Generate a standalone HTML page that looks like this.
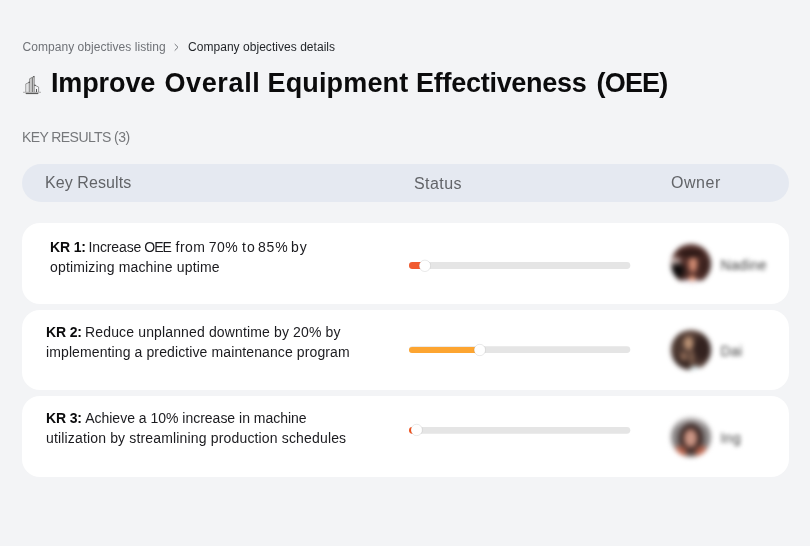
<!DOCTYPE html>
<html lang="en">
<head>
<meta charset="utf-8">
<title>Company objectives details</title>
<style>
*{box-sizing:border-box;margin:0;padding:0}
html,body{width:810px;height:546px;overflow:hidden;background:#f3f4f6}
body{font-family:"Liberation Sans",sans-serif;color:#111;position:relative}
.abs{position:absolute;white-space:nowrap}
.crumb{top:40px;font-size:12px;line-height:14px;color:#6f7277}
.title{left:51.5px;top:66px;font-size:27px;line-height:34px;font-weight:700;color:#0b0b0c;letter-spacing:.05px}
.icon{left:22px;top:74px;width:20px;height:22px}
.sub{left:22px;top:129px;font-size:14px;line-height:16px;color:#76787b;letter-spacing:-.58px}
.head{left:22px;top:164px;width:767px;height:38px;border-radius:19px;background:#e5e9f1}
.hd{font-size:16px;line-height:20px;color:#626468}
.card{left:22px;width:767px;border-radius:18px;background:#fff}
.ln{font-size:14px;line-height:20px;color:#1b1b1f}
.ln b{font-weight:700;color:#0b0b0c;letter-spacing:-.15px}
.track{height:7px;border-radius:3.5px;background:#e5e5e5;left:409px;width:221px}
.fill{height:7px;border-radius:3.5px;left:409px}
.knob{width:11px;height:11px;border-radius:50%;background:#fff;box-shadow:0 0 1px rgba(0,0,0,.35)}
.av{width:40px;height:40px;border-radius:50%;filter:blur(2.5px);overflow:hidden}
.nm{left:720.5px;font-size:14px;line-height:18px;color:#3c3c3c;filter:blur(2.2px);letter-spacing:.35px;transform:translateY(.6px)}
</style>
</head>
<body>
<div class="abs crumb" style="left:22.5px;letter-spacing:.045px" id="c1">Company objectives listing</div>
<svg class="abs" style="left:173px;top:43px" width="7" height="9" viewBox="0 0 7 9"><path d="M1.7 1 L5 4.3 L1.7 7.6" fill="none" stroke="#74777c" stroke-width="1"/></svg>
<div class="abs crumb" style="left:188px;color:#1f2226;letter-spacing:.04px" id="c2">Company objectives details</div>

<svg class="abs icon" viewBox="0 0 20 22" fill="none" stroke="#8c8c8c" stroke-width=".9">
<path d="M1 18.3h18" stroke="#9a9a9a" stroke-width=".8"/>
<path d="M3.7 19.5h12.6" stroke="#5c5c5c" stroke-width="1.2"/>
<path d="M7.6 18V4.7L12 2.5V18z" fill="#d9d9d9" stroke="none"/>
<path d="M3.8 18V9.9L7.6 8.3" />
<path d="M6.2 9.2V18" stroke="#aaa" stroke-width=".7"/>
<path d="M7.7 18V4.7L12.2 2.5V18" stroke="#7d7d7d"/>
<path d="M10.3 3.6V18" stroke="#666" stroke-width="1"/>
<path d="M12.3 11l4.3 2V18" />
<path d="M14.5 15V18" stroke="#555" stroke-width="1"/>
<path d="M6.6 8.5l1-.4M11.4 2.8l.9-.4M12.5 11l1 .5" stroke="#333" stroke-width="1.1"/>
</svg>
<h1 class="abs title" id="t" style="left:0;width:810px;height:34px"><span class="abs" style="left:50.9px;letter-spacing:-.1px">Improve</span> <span class="abs" style="left:164.4px;letter-spacing:.65px">Overall</span> <span class="abs" style="left:267.5px;letter-spacing:.15px">Equipment</span> <span class="abs" style="left:416.1px;letter-spacing:-.283px">Effectiveness</span> <span class="abs" style="left:596.5px;letter-spacing:-.8px">(OEE)</span></h1>

<div class="abs sub" id="s">KEY RESULTS (3)</div>

<div class="abs head"></div>
<div class="abs hd" style="left:45px;top:173px;letter-spacing:.08px" id="h1">Key Results</div>
<div class="abs hd" style="left:414px;top:174px;letter-spacing:.45px" id="h2">Status</div>
<div class="abs hd" style="left:671px;top:173px;letter-spacing:.55px" id="h3">Owner</div>

<div class="abs card" style="top:223px;height:81px"></div>
<div class="abs card" style="top:310px;height:80px"></div>
<div class="abs card" style="top:396px;height:81px"></div>

<div class="abs ln" style="left:0;top:237px;width:400px;height:20px" id="l1"><b class="abs" style="left:50px">KR 1:</b> <span class="abs" style="left:88.6px;letter-spacing:-.14px">Increase</span> <span class="abs" style="left:144.3px;letter-spacing:-1.03px">OEE</span> <span class="abs" style="left:175.5px;letter-spacing:.51px">from</span> <span class="abs" style="left:208.8px;letter-spacing:.5px">70%</span> <span class="abs" style="left:241.9px;letter-spacing:1.14px">to</span> <span class="abs" style="left:258px;letter-spacing:.83px">85%</span> <span class="abs" style="left:291px;letter-spacing:.97px">by</span></div>
<div class="abs ln" style="left:50px;top:257px;letter-spacing:.16px" id="l2">optimizing machine uptime</div>
<div class="abs ln" style="left:46px;top:322px" id="l3"><b>KR 2:</b><span id="r3" style="margin-left:-.75px;letter-spacing:.14px"> Reduce unplanned downtime by 20% by</span></div>
<div class="abs ln" style="left:46px;top:342px;letter-spacing:.11px" id="l4">implementing a predictive maintenance program</div>
<div class="abs ln" style="left:46px;top:408px" id="l5"><b>KR 3:</b><span id="r5" style="margin-left:.25px;letter-spacing:-.01px"> Achieve a 10% increase in machine</span></div>
<div class="abs ln" style="left:46px;top:428px;letter-spacing:.16px" id="l6">utilization by streamlining production schedules</div>

<svg class="abs" style="left:0;top:0" width="810" height="546" viewBox="0 0 810 546">
<rect x="409" y="262.1" width="221.3" height="6.8" rx="3.4" fill="#e5e5e5"/>
<rect x="409" y="262.1" width="17" height="6.8" rx="3.4" fill="#f15a2f"/>
<circle cx="424.9" cy="265.8" r="5.7" fill="#fff" stroke="#000" stroke-opacity=".13" stroke-width=".7"/>
<rect x="409" y="346.2" width="221.3" height="6.8" rx="3.4" fill="#e5e5e5"/>
<rect x="409" y="346.9" width="72" height="6.1" rx="3.05" fill="#fda531"/>
<circle cx="479.8" cy="350" r="5.7" fill="#fff" stroke="#000" stroke-opacity=".13" stroke-width=".7"/>
<rect x="409" y="426.9" width="221.3" height="6.9" rx="3.45" fill="#e5e5e5"/>
<rect x="409" y="426.9" width="9" height="6.9" rx="3.45" fill="#f3541f"/>
<circle cx="416.65" cy="429.95" r="5.7" fill="#fff" stroke="#000" stroke-opacity=".13" stroke-width=".7"/>
</svg>

<div class="abs av" style="left:670.5px;top:243.5px;background:
 radial-gradient(ellipse 9% 9% at 53% 86%,#f3a27e 0 55%,transparent 100%),
 radial-gradient(ellipse 46% 13% at 50% 100%,#eee9f0 0 70%,transparent 100%),
 radial-gradient(circle at 15% 67%,#0e0b0b 0 11%,transparent 24%),
 radial-gradient(circle at 11% 46%,#d6c4c0 0 6%,transparent 17%),
 radial-gradient(ellipse 40% 13% at 50% 24%,#2c1815 0 55%,transparent 100%),
 radial-gradient(ellipse 13% 24% at 55% 50%,#cf8b72 0 50%,#b4705c 78%,transparent 100%),
 radial-gradient(circle at 88% 56%,#3d231f 0 14%,transparent 34%),
 #55312b"></div>
<div class="abs nm" style="top:255px">Nadine</div>

<div class="abs av" style="left:670.5px;top:330px;background:
 radial-gradient(ellipse 16% 9% at 60% 97%,#cfdfe3 0 60%,transparent 100%),
 radial-gradient(ellipse 15% 20% at 44% 33%,#bb9476 0 45%,#9c7660 75%,transparent 100%),
 radial-gradient(ellipse 12% 14% at 32% 66%,#8e6a56 0 50%,transparent 100%),
 radial-gradient(ellipse 9% 26% at 52% 68%,#80604e 0 40%,transparent 100%),
 radial-gradient(circle at 80% 46%,#33221f 0 22%,transparent 48%),
 radial-gradient(circle at 24% 88%,#3a2924 0 14%,transparent 36%),
 radial-gradient(circle at 14% 32%,#4c3830 0 14%,transparent 40%),
 #5e463d"></div>
<div class="abs nm" style="top:341px">Dai</div>

<div class="abs av" style="left:670.5px;top:416.5px;background:
 radial-gradient(circle at 22% 90%,#c4664c 0 6%,transparent 20%),
 radial-gradient(circle at 78% 90%,#c4664c 0 6%,transparent 20%),
 radial-gradient(ellipse 19% 26% at 49% 53%,#cb9786 0 50%,#b07a6a 78%,transparent 100%),
 radial-gradient(ellipse 36% 46% at 50% 54%,#3f2c29 0 72%,transparent 100%),
 linear-gradient(#c9c6c6 0,#8e8a8a 30%,#858181 100%)"></div>
<div class="abs nm" style="top:428px">Ing</div>
</body>
</html>
